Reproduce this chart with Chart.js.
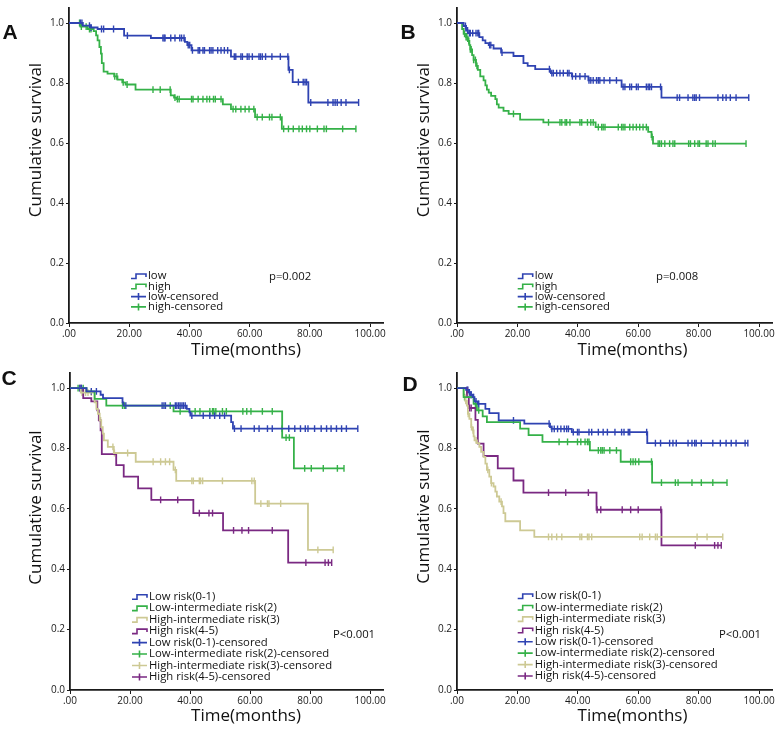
<!DOCTYPE html>
<html>
<head>
<meta charset="utf-8">
<script src="https://cdn.jsdelivr.net/npm/chart.js@4"></script>
<style>
html, body { margin: 0; padding: 0; background: #fff; }
#wrap { position: relative; width: 778px; height: 730px; }
canvas { position: absolute; }
</style>
</head>
<body>
<div id="wrap">
  <canvas id="pA" width="389" height="365" style="left:0;top:0"></canvas>
  <canvas id="pB" width="389" height="365" style="left:389px;top:0"></canvas>
  <canvas id="pC" width="389" height="365" style="left:0;top:365px"></canvas>
  <canvas id="pD" width="389" height="365" style="left:389px;top:365px"></canvas>
</div>
<script>
// axis ticks
const xTickValues = [0, 20, 40, 60, 80, 100];
const xTickLabels = ['.00', '20.00', '40.00', '60.00', '80.00', '100.00'];
const yTickValues = [0, 0.2, 0.4, 0.6, 0.8, 1.0];
const yTickLabels = ['0.0', '0.2', '0.4', '0.6', '0.8', '1.0'];

// panel A
const aLowTime = [0, 4.6, 7.3, 9.5, 18.3, 27.2, 38.5, 39.3, 40.7, 53.8, 72.9, 74.3, 79.5];
const aLowSurv = [1, 0.991, 0.985, 0.980, 0.958, 0.950, 0.937, 0.926, 0.909, 0.888, 0.844, 0.803, 0.735];
const aLowCens = [3.8, 4.3, 6.8, 7.3, 10.8, 11.5, 14.8, 19.4, 31.2, 31.6, 31.9, 33.8, 35.2, 36.8, 37.4, 38.2, 39.6, 40.1, 41.0, 42.9, 43.4, 44.5, 45.0, 46.7, 47.2, 47.8, 49.4, 50.5, 51.6, 52.7, 54.9, 55.4, 57.1, 57.6, 59.2, 59.8, 60.9, 63.1, 63.6, 64.2, 65.3, 67.4, 70.2, 72.7, 73.2, 76.2, 77.8, 78.4, 78.9, 80.3, 86.0, 87.7, 88.4, 89.1, 90.4, 92.0, 96.2];
const aHighTime = [0, 3.8, 6.2, 8.2, 9.0, 9.5, 10.1, 10.6, 10.9, 11.5, 12.8, 15.0, 16.1, 17.7, 18.8, 22.1, 33.8, 34.9, 35.7, 51.1, 53.8, 61.8, 70.7];
const aHighSurv = [1, 0.988, 0.980, 0.973, 0.959, 0.942, 0.920, 0.898, 0.866, 0.838, 0.831, 0.822, 0.811, 0.802, 0.795, 0.778, 0.759, 0.751, 0.746, 0.729, 0.713, 0.686, 0.647];
const aHighCens = [3.5, 4.1, 5.7, 6.8, 7.3, 15.2, 15.9, 18.0, 19.3, 27.9, 30.3, 33.6, 35.2, 36.0, 36.6, 40.7, 41.2, 42.9, 44.5, 45.8, 46.7, 48.0, 48.6, 50.5, 54.5, 55.4, 57.1, 58.5, 59.8, 61.4, 62.5, 64.2, 66.6, 67.4, 70.2, 71.3, 72.9, 74.5, 76.4, 77.5, 78.9, 80.0, 82.5, 84.7, 85.5, 90.9, 95.3];

// panel B
const bLowTime = [0, 2.2, 3.0, 3.6, 7.4, 8.5, 9.4, 10.5, 12.1, 14.6, 18.7, 22.0, 23.4, 25.9, 30.8, 31.1, 38.0, 43.5, 54.5, 67.7];
const bLowSurv = [1, 0.990, 0.975, 0.966, 0.953, 0.942, 0.933, 0.926, 0.915, 0.901, 0.890, 0.866, 0.857, 0.846, 0.838, 0.833, 0.822, 0.809, 0.787, 0.751];
const bLowCens = [2.8, 3.5, 4.1, 4.4, 5.2, 6.3, 6.9, 7.2, 10.8, 11.2, 14.9, 30.6, 31.4, 31.9, 33.0, 34.1, 35.2, 36.6, 37.1, 38.2, 39.3, 40.7, 42.4, 43.7, 44.3, 45.1, 46.2, 46.8, 47.3, 48.7, 50.6, 52.8, 55.0, 55.6, 57.2, 57.8, 59.4, 60.0, 62.7, 63.3, 63.8, 64.4, 67.4, 72.9, 73.7, 76.5, 78.1, 78.7, 79.2, 80.3, 86.4, 88.0, 89.1, 90.5, 92.4, 96.6];
const bHighTime = [0, 1.7, 2.2, 3.0, 3.6, 4.1, 4.4, 5.0, 5.5, 6.3, 6.9, 7.7, 8.8, 9.4, 9.9, 10.5, 11.3, 12.7, 13.2, 13.8, 15.4, 17.1, 20.9, 28.6, 45.9, 63.3, 64.4, 64.9];
const bHighSurv = [1, 0.980, 0.964, 0.953, 0.940, 0.926, 0.912, 0.893, 0.877, 0.857, 0.844, 0.822, 0.809, 0.792, 0.778, 0.768, 0.757, 0.746, 0.729, 0.718, 0.707, 0.697, 0.678, 0.669, 0.653, 0.637, 0.620, 0.598];
const bHighCens = [2.5, 3.0, 3.3, 3.9, 4.4, 4.7, 5.5, 6.1, 6.6, 18.7, 30.3, 34.1, 34.7, 35.8, 36.3, 37.4, 40.7, 41.3, 43.2, 44.3, 45.1, 46.8, 47.9, 48.4, 49.0, 53.4, 54.5, 55.0, 55.6, 57.2, 58.3, 59.4, 60.5, 61.6, 62.7, 64.6, 66.6, 67.1, 67.7, 68.8, 70.4, 71.5, 72.1, 76.7, 77.3, 78.7, 79.8, 80.3, 82.5, 83.1, 84.7, 85.5, 95.7];

// panel C
const cLowTime = [0, 5.5, 10.2, 11.0, 17.5, 17.8, 38.9, 39.8, 40.1, 53.7, 54.3];
const cLowSurv = [1, 0.989, 0.978, 0.967, 0.953, 0.942, 0.931, 0.920, 0.909, 0.887, 0.866];
const cLowCens = [3.3, 3.8, 7.1, 8.8, 18.6, 30.7, 31.3, 31.8, 35.1, 35.6, 36.2, 36.7, 37.3, 37.8, 38.4, 40.6, 44.4, 46.6, 48.2, 49.9, 51.5, 54.8, 57.0, 61.4, 63.0, 65.8, 67.4, 70.7, 72.9, 74.9, 76.8, 78.4, 79.3, 81.5, 83.7, 85.5, 87.0, 88.8, 90.5, 92.1, 95.9];
const cLowIntTime = [0, 5.5, 8.2, 12.1, 34.5, 70.7, 74.6];
const cLowIntSurv = [1, 0.989, 0.964, 0.942, 0.923, 0.836, 0.734];
const cLowIntCens = [2.7, 4.4, 17.5, 18.1, 33.4, 36.7, 41.7, 43.3, 46.6, 47.5, 47.9, 48.6, 50.8, 52.1, 57.6, 58.9, 60.3, 64.1, 67.4, 72.0, 73.1, 78.2, 80.4, 84.4, 89.1, 91.3];
const cHighIntTime = [0, 3.6, 8.2, 8.8, 9.3, 9.9, 10.4, 10.9, 11.3, 12.6, 14.6, 21.9, 34.5, 35.4, 61.7, 79.3];
const cHighIntSurv = [1, 0.985, 0.953, 0.931, 0.915, 0.893, 0.871, 0.849, 0.827, 0.805, 0.785, 0.756, 0.729, 0.693, 0.617, 0.464];
const cHighIntCens = [4.0, 5.2, 6.0, 7.1, 10.2, 14.3, 14.8, 19.2, 27.7, 30.2, 31.8, 33.2, 35.1, 40.6, 41.1, 43.1, 43.5, 44.2, 50.8, 60.6, 61.4, 63.6, 65.8, 66.3, 70.2, 82.6, 87.7];
const cHighTime = [0, 4.4, 7.1, 9.1, 9.6, 10.2, 10.6, 15.4, 17.9, 22.7, 27.1, 41.1, 51.0, 72.7];
const cHighSurv = [1, 0.967, 0.956, 0.926, 0.893, 0.860, 0.781, 0.745, 0.707, 0.668, 0.630, 0.586, 0.529, 0.422];
const cHighCens = [3.3, 3.8, 30.2, 35.9, 43.1, 46.3, 47.5, 54.5, 57.3, 59.5, 67.4, 78.6, 85.0, 86.1, 87.2];

// panel D
const dLowTime = [0, 3.0, 3.9, 4.4, 5.2, 5.8, 6.9, 9.4, 10.7, 13.8, 22.3, 30.8, 31.3, 38.0, 63.0];
const dLowSurv = [1, 0.994, 0.986, 0.978, 0.970, 0.956, 0.948, 0.931, 0.917, 0.893, 0.882, 0.871, 0.865, 0.854, 0.818];
const dLowCens = [3.3, 3.6, 4.1, 4.6, 4.7, 5.5, 6.3, 7.2, 18.7, 30.5, 31.4, 32.2, 33.3, 34.4, 35.5, 36.3, 36.9, 38.5, 39.9, 40.4, 43.7, 44.6, 46.8, 48.4, 49.8, 52.3, 54.5, 55.3, 56.7, 57.2, 62.8, 65.7, 67.4, 70.4, 71.5, 72.6, 76.5, 77.8, 78.7, 79.2, 80.9, 84.7, 87.2, 89.1, 90.8, 92.4, 95.4, 96.3];
const dLowIntTime = [0, 2.2, 5.5, 6.6, 8.5, 9.9, 20.9, 23.7, 28.3, 44.0, 54.2, 64.6];
const dLowIntSurv = [1, 0.970, 0.948, 0.926, 0.906, 0.887, 0.866, 0.844, 0.822, 0.794, 0.756, 0.687];
const dLowIntCens = [2.5, 6.1, 7.2, 33.8, 36.6, 39.9, 41.0, 42.4, 43.2, 43.7, 46.8, 47.6, 48.1, 48.7, 50.6, 52.8, 57.5, 58.3, 59.1, 60.2, 64.4, 67.7, 72.3, 73.2, 77.8, 80.9, 84.7, 89.4];
const dHighIntTime = [0, 2.2, 2.75, 3.3, 3.6, 4.1, 4.7, 5.2, 5.5, 5.8, 6.6, 7.4, 8.0, 8.8, 9.4, 9.9, 10.7, 11.3, 12.1, 12.7, 13.2, 14.0, 14.9, 15.4, 16.0, 20.9, 25.6];
const dHighIntSurv = [1, 0.975, 0.958, 0.942, 0.915, 0.898, 0.871, 0.860, 0.840, 0.827, 0.818, 0.805, 0.789, 0.772, 0.750, 0.729, 0.707, 0.685, 0.674, 0.657, 0.641, 0.624, 0.608, 0.586, 0.559, 0.529, 0.507];
const dHighIntCens = [2.9, 3.7, 4.8, 5.3, 6.3, 10.2, 11.4, 14.6, 30.3, 31.4, 33.0, 34.7, 40.7, 41.3, 43.2, 43.7, 44.6, 60.5, 61.3, 63.8, 65.7, 66.3, 79.5, 82.8, 88.0];
const dHighTime = [0, 3.3, 3.9, 6.1, 6.9, 8.8, 13.5, 18.7, 22.0, 46.2, 67.7];
const dHighSurv = [1, 0.970, 0.934, 0.895, 0.816, 0.775, 0.734, 0.694, 0.654, 0.597, 0.479];
const dHighCens = [4.2, 4.7, 30.3, 36.0, 43.5, 46.4, 47.6, 54.7, 57.5, 60.0, 67.5, 78.9, 85.3, 86.4, 87.5];

const BLUE = '#2f43b2';
const GREEN = '#35b148';
const BEIGE = '#cdc994';
const PURPLE = '#7a2982';

function stepPoints(times, surv, cens) {
  const pts = times.map((t, i) => ({ x: t, y: surv[i] }));
  const end = Math.max(times[times.length - 1], cens[cens.length - 1]);
  pts.push({ x: end, y: surv[surv.length - 1] });
  return pts;
}
function survAt(times, surv, t) {
  let s = surv[0];
  for (let i = 0; i < times.length; i++) if (times[i] <= t) s = surv[i];
  return s;
}
function censPoints(times, surv, cens) {
  return cens.map(t => ({ x: t, y: survAt(times, surv, t) }));
}

function buildDatasets(groups) {
  const ds = [];
  groups.forEach(g => {
    ds.push({
      label: g.name, data: stepPoints(g.time, g.surv, g.cens),
      showLine: true, stepped: 'before', borderColor: g.color, borderWidth: 1.8,
      pointRadius: 0, fill: false
    });
  });
  groups.forEach(g => {
    ds.push({
      label: g.name + '-censored', data: censPoints(g.time, g.surv, g.cens),
      showLine: false, pointStyle: 'line', rotation: 90, pointRadius: 3.4,
      borderColor: g.color, backgroundColor: g.color, pointBorderWidth: 1.4
    });
  });
  return ds;
}

const panelText = {
  id: 'panelText',
  afterDraw(chart, args, o) {
    const ctx = chart.ctx;
    ctx.save();
    ctx.fillStyle = '#111';
    ctx.textAlign = 'center';
    ctx.textBaseline = 'middle';
    ctx.font = 'bold 21px "Liberation Sans", Arial, sans-serif';
    ctx.fillText(o.letter, o.letterX, o.letterY);
    ctx.font = '17px "Open Sans", sans-serif';
    ctx.fillText('Time(months)', o.xTitleX, o.xTitleY);
    ctx.save();
    ctx.translate(o.yTitleX, o.yTitleY);
    ctx.rotate(-Math.PI / 2);
    ctx.fillText('Cumulative survival', 0, 0);
    ctx.restore();

    ctx.font = '11.3px "Open Sans", sans-serif';
    ctx.textAlign = 'left';
    ctx.fillText(o.pText, o.pX, o.pY);

    const items = [];
    o.groups.forEach(g => items.push({ kind: 'step', color: g.color, label: g.name }));
    o.groups.forEach(g => items.push({ kind: 'cens', color: g.color, label: g.name + '-censored' }));
    items.forEach((it, i) => {
      const y = o.legY + i * o.legGap;
      const x = o.legX;
      ctx.strokeStyle = it.color;
      ctx.lineWidth = 1.6;
      ctx.beginPath();
      if (it.kind === 'step') {
        ctx.moveTo(x, y + 2.5);
        ctx.lineTo(x + 5, y + 2.5);
        ctx.lineTo(x + 5, y - 2);
        ctx.lineTo(x + 15, y - 2);
        ctx.lineTo(x + 15, y + 1);
      } else {
        ctx.moveTo(x, y);
        ctx.lineTo(x + 15, y);
        ctx.moveTo(x + 7.5, y - 3.5);
        ctx.lineTo(x + 7.5, y + 3.5);
      }
      ctx.stroke();
      ctx.fillText(it.label, x + 17, y);
    });
    ctx.restore();
  }
};

function makeScales(leftW, xH) {
  return {
    x: {
      type: 'linear', min: 0, max: 104.5,
      afterBuildTicks: s => { s.ticks = xTickValues.map(v => ({ value: v })); },
      afterFit: s => { s.height = xH; },
      border: { color: '#1a1a1a', width: 1.8 },
      grid: { drawOnChartArea: false, tickLength: 4, color: '#1a1a1a' },
      ticks: {
        font: { family: 'Open Sans', size: 10 }, color: '#1a1a1a', padding: 1,
        maxRotation: 0, autoSkip: false,
        callback: (v, i) => xTickLabels[i]
      }
    },
    y: {
      type: 'linear', min: 0, max: 1.05,
      afterBuildTicks: s => { s.ticks = yTickValues.map(v => ({ value: v })); },
      afterFit: s => { s.width = leftW; },
      border: { color: '#1a1a1a', width: 1.8 },
      grid: { drawOnChartArea: false, tickLength: 3, color: '#1a1a1a' },
      ticks: {
        font: { family: 'Open Sans', size: 10 }, color: '#1a1a1a', padding: 2,
        callback: (v, i) => yTickLabels[i]
      }
    }
  };
}

function makePanel(id, groups, p) {
  new Chart(document.getElementById(id).getContext('2d'), {
    type: 'scatter',
    data: { datasets: buildDatasets(groups) },
    options: {
      responsive: false,
      animation: false,
      layout: { padding: { top: p.padTop, right: p.padRight, left: 0, bottom: 0 } },
      scales: makeScales(p.leftW, p.xH),
      plugins: {
        legend: { display: false },
        tooltip: { enabled: false },
        panelText: Object.assign({ groups: groups }, p)
      }
    },
    plugins: [panelText]
  });
}

const twoGroupsA = [
  { name: 'low', color: BLUE, time: aLowTime, surv: aLowSurv, cens: aLowCens },
  { name: 'high', color: GREEN, time: aHighTime, surv: aHighSurv, cens: aHighCens }
];
const twoGroupsB = [
  { name: 'low', color: BLUE, time: bLowTime, surv: bLowSurv, cens: bLowCens },
  { name: 'high', color: GREEN, time: bHighTime, surv: bHighSurv, cens: bHighCens }
];
const fourGroupsC = [
  { name: 'Low risk(0-1)', color: BLUE, time: cLowTime, surv: cLowSurv, cens: cLowCens },
  { name: 'Low-intermediate risk(2)', color: GREEN, time: cLowIntTime, surv: cLowIntSurv, cens: cLowIntCens },
  { name: 'High-intermediate risk(3)', color: BEIGE, time: cHighIntTime, surv: cHighIntSurv, cens: cHighIntCens },
  { name: 'High risk(4-5)', color: PURPLE, time: cHighTime, surv: cHighSurv, cens: cHighCens }
];
const fourGroupsD = [
  { name: 'Low risk(0-1)', color: BLUE, time: dLowTime, surv: dLowSurv, cens: dLowCens },
  { name: 'Low-intermediate risk(2)', color: GREEN, time: dLowIntTime, surv: dLowIntSurv, cens: dLowIntCens },
  { name: 'High-intermediate risk(3)', color: BEIGE, time: dHighIntTime, surv: dHighIntSurv, cens: dHighIntCens },
  { name: 'High risk(4-5)', color: PURPLE, time: dHighTime, surv: dHighSurv, cens: dHighCens }
];

makePanel('pA', twoGroupsA, {
  leftW: 69, xH: 42, padTop: 2, padRight: 1,
  letter: 'A', letterX: 10, letterY: 33, yTitleX: 36, yTitleY: 140, xTitleX: 246, xTitleY: 350,
  pText: 'p=0.002', pX: 269, pY: 277, legX: 131, legY: 276, legGap: 10.3
});
makePanel('pB', twoGroupsB, {
  leftW: 68, xH: 42, padTop: 2, padRight: 4,
  letter: 'B', letterX: 19, letterY: 33, yTitleX: 35.5, yTitleY: 140, xTitleX: 243.5, xTitleY: 350,
  pText: 'p=0.008', pX: 267, pY: 277, legX: 128.7, legY: 276, legGap: 10.3
});
makePanel('pC', fourGroupsC, {
  leftW: 70, xH: 40, padTop: 5.5, padRight: 1,
  letter: 'C', letterX: 9, letterY: 14, yTitleX: 36, yTitleY: 142.5, xTitleX: 246, xTitleY: 351,
  pText: 'P<0.001', pX: 333, pY: 270, legX: 132, legY: 231.7, legGap: 11.47
});
makePanel('pD', fourGroupsD, {
  leftW: 68, xH: 40, padTop: 5.5, padRight: 4,
  letter: 'D', letterX: 21, letterY: 20, yTitleX: 35.5, yTitleY: 141.5, xTitleX: 243.5, xTitleY: 351,
  pText: 'P<0.001', pX: 330, pY: 269.3, legX: 128.7, legY: 231, legGap: 11.43
});
</script>
</body>
</html>
